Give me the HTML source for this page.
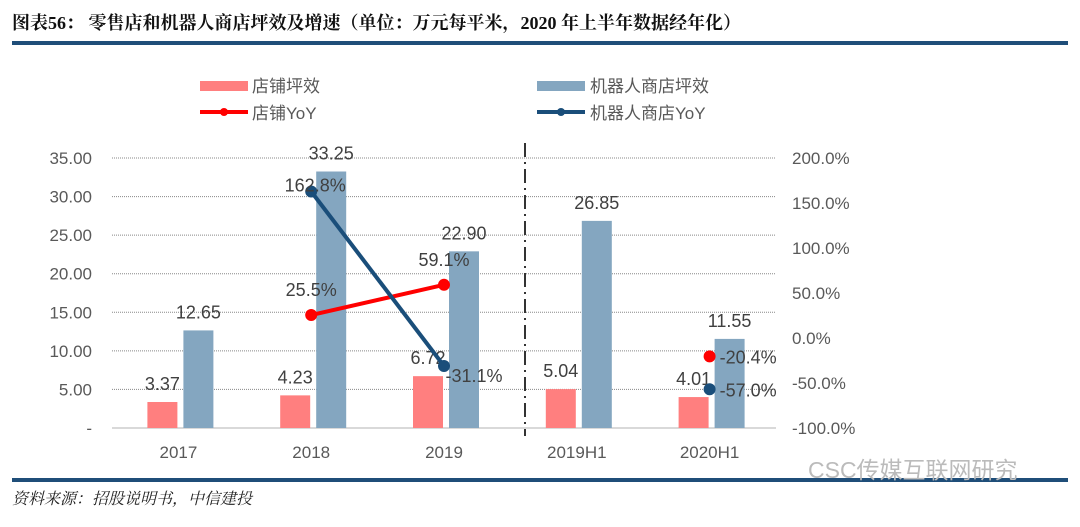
<!DOCTYPE html>
<html><head><meta charset="utf-8"><style>
body{margin:0;background:#fff;width:1080px;height:522px;overflow:hidden;font-family:"Liberation Sans","Noto Sans CJK SC",sans-serif}
</style></head><body>
<svg width="1080" height="522" xmlns="http://www.w3.org/2000/svg" id="chart">
<text x="12" y="29" font-family="Liberation Serif,'Noto Serif CJK SC',serif" font-weight="bold" font-size="18" fill="#111">图表56：  零售店和机器人商店坪效及增速（单位：万元每平米，2020 年上半年数据经年化）</text>
<rect x="12" y="41" width="1056" height="4" fill="#1f4e79"/>
<rect x="12" y="478" width="1056" height="4" fill="#1f4e79"/>
<text x="12" y="504" font-style="italic" font-size="16" fill="#222" font-family="'Noto Serif CJK SC',serif">资料来源：招股说明书，中信建投</text>
<text x="808" y="478" font-size="23" fill="#bbb">CSC传媒互联网研究</text>
<g font-size="17" fill="#595959">
<rect x="200" y="81" width="48" height="10" fill="#ff7f7f"/>
<text x="252" y="92">店铺坪效</text>
<rect x="537" y="81" width="48" height="10" fill="#84a6c0"/>
<text x="590" y="92">机器人商店坪效</text>
<line x1="200" y1="112" x2="248" y2="112" stroke="#f00" stroke-width="4"/>
<circle cx="224" cy="112" r="4" fill="#f00"/>
<text x="252" y="119">店铺YoY</text>
<line x1="537" y1="112" x2="585" y2="112" stroke="#1a4e7a" stroke-width="4"/>
<circle cx="561" cy="112" r="4" fill="#1a4e7a"/>
<text x="590" y="119">机器人商店YoY</text>
</g>
<g id="plot"></g>
</svg>
<script>
const categories=["2017","2018","2019","2019H1","2020H1"];
const storeEff=[3.37,4.23,6.72,5.04,4.01];
const robotEff=[12.65,33.25,22.90,26.85,11.55];
const storeYoY=[null,25.5,59.1,null,-20.4];
const robotYoY=[null,162.8,-31.1,null,-57.0];
const leftTicks=[0,5,10,15,20,25,30,35];
const rightTicks=[-100,-50,0,50,100,150,200];
const NS="http://www.w3.org/2000/svg";
const g=document.getElementById('plot');
const x0=112,x1=776,yTop=158,yBot=428;
const bandW=(x1-x0)/categories.length;
const xc=i=>x0+bandW*(i+0.5);
const yL=v=>yBot-(v/35)*(yBot-yTop);
const yR=v=>yBot-((v+100)/300)*(yBot-yTop);
function mk(t,a,txt){const e=document.createElementNS(NS,t);for(const k in a)e.setAttribute(k,a[k]);if(txt!=null)e.textContent=txt;g.appendChild(e);return e;}
leftTicks.forEach(v=>{
 if(v>0){const l=mk('line',{x1:x0,x2:x1,y1:yL(v),y2:yL(v),stroke:'#888','stroke-width':1,'stroke-dasharray':'1,1'});
 
 }
 const t=mk('text',{x:92,y:yL(v)+6,'text-anchor':'end','font-size':17,fill:'#595959'},v===0?'-':v.toFixed(2));
 
 
});
const ax=mk('line',{x1:x0,x2:x1,y1:yBot,y2:yBot,stroke:'#d9d9d9','stroke-width':2});


rightTicks.forEach(v=>{
 const t=mk('text',{x:792,y:yR(v)+6,'font-size':17,fill:'#595959'},v.toFixed(1)+'%');
 
 
});
const dl=mk('line',{x1:525,x2:525,y1:143,y2:436,stroke:'#333','stroke-width':2,'stroke-dasharray':'14,5,2,5'});


categories.forEach((c,i)=>{
 const b1=mk('rect',{x:xc(i)-31,y:yL(storeEff[i]),width:30,height:yBot-yL(storeEff[i]),fill:'#ff7f7f'});
 
 
 const b2=mk('rect',{x:xc(i)+5,y:yL(robotEff[i]),width:30,height:yBot-yL(robotEff[i]),fill:'#84a6c0'});
 
 
 const t1=mk('text',{x:xc(i)-16,y:yL(storeEff[i])-12,'text-anchor':'middle','font-size':18,fill:'#404040'},storeEff[i].toFixed(2));
 
 
 const t2=mk('text',{x:xc(i)+20,y:yL(robotEff[i])-12,'text-anchor':'middle','font-size':18,fill:'#404040'},robotEff[i].toFixed(2));
 
 
 const xl=mk('text',{x:xc(i),y:458,'text-anchor':'middle','font-size':17,fill:'#595959'},c);
 
 
});
function series(vals,color,name,offs){
 const pts=[];vals.forEach((v,i)=>{if(v!=null)pts.push([i,v]);});
 for(let k=0;k<pts.length-1;k++){if(pts[k+1][0]-pts[k][0]===1){
  const l=mk('line',{x1:xc(pts[k][0]),y1:yR(pts[k][1]),x2:xc(pts[k+1][0]),y2:yR(pts[k+1][1]),stroke:color,'stroke-width':4});
  
  }}
 pts.forEach(([i,v])=>{
  const c=mk('circle',{cx:xc(i),cy:yR(v),r:6,fill:color});
  
  
  const o=offs[i];
  const t=mk('text',{x:xc(i)+o[0],y:yR(v)+o[1],'text-anchor':o[2],'font-size':18,fill:'#404040'},v.toFixed(1)+'%');
  
  
 });
}
series(storeYoY,'#ff0000','store-yoy',{1:[0,-19,'middle'],2:[0,-19,'middle'],4:[10,7,'start']});
series(robotYoY,'#1a4e7a','robot-yoy',{1:[4,0,'middle'],2:[30,16,'middle'],4:[10,7,'start']});
</script>
</body></html>
